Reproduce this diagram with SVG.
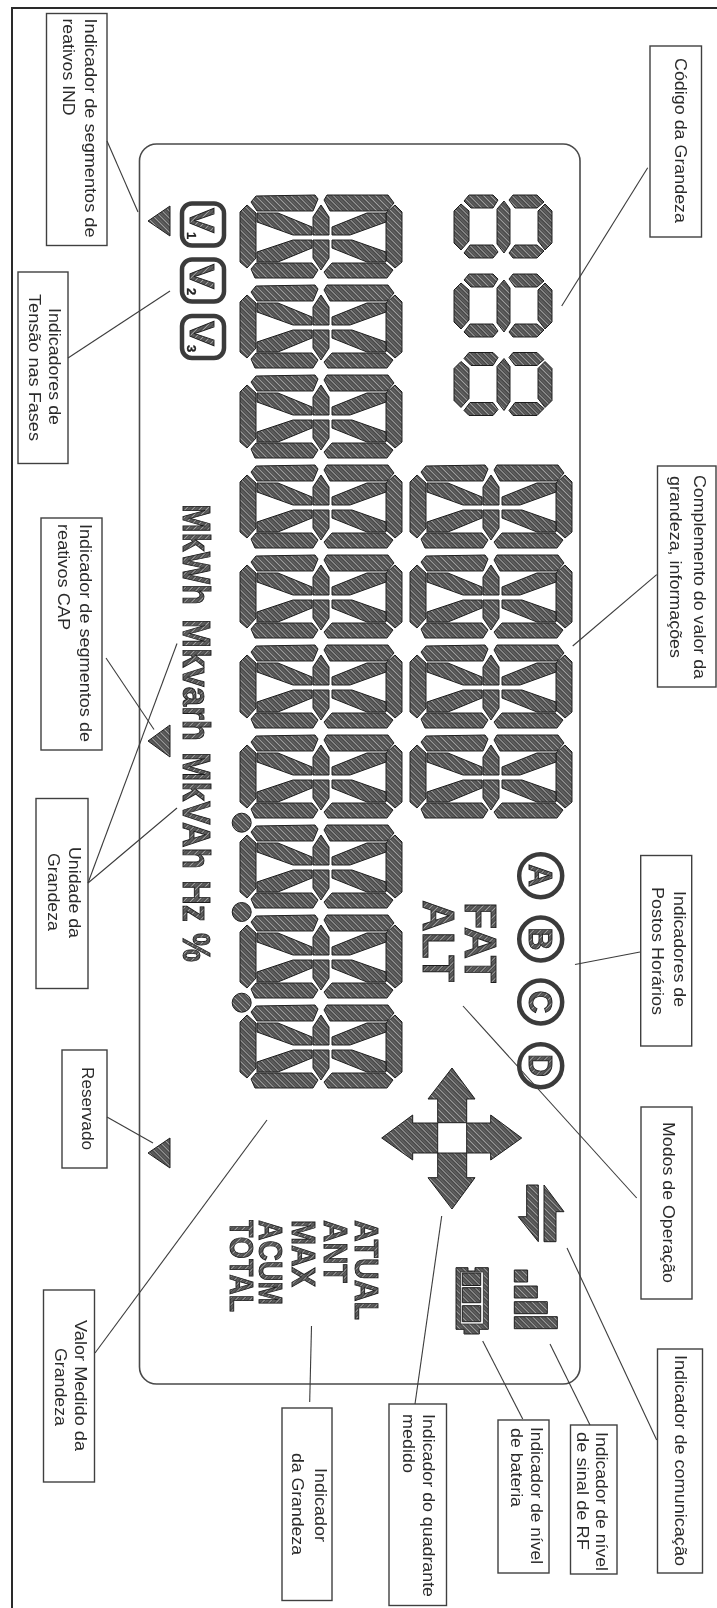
<svg xmlns="http://www.w3.org/2000/svg" xmlns:xlink="http://www.w3.org/1999/xlink" width="717" height="1608" viewBox="0 0 717 1608">
<style>
.box{fill:#fff;stroke:#404040;stroke-width:1.4}
.t{font-family:"Liberation Sans",Arial,sans-serif;font-size:16px;fill:#2c2c2c}
.b{font-family:"Liberation Sans",Arial,sans-serif;font-weight:700;fill:url(#h);stroke:#1c1c1c;stroke-width:.9}
.s{fill:url(#h);stroke:#1e1e1e;stroke-width:1;stroke-linejoin:round}
.c{stroke:#3c3c3c;stroke-width:1.1;fill:none}
.ring{fill:#fff;stroke:#3a3a3a;stroke-width:4.5}
</style>
<defs>
<filter id="soft" x="0" y="0" width="100%" height="100%" filterUnits="userSpaceOnUse" primitiveUnits="userSpaceOnUse"><feGaussianBlur stdDeviation="0.4"/></filter>
<pattern id="h" patternUnits="userSpaceOnUse" width="5" height="5" patternTransform="rotate(-45)">
<rect width="5" height="5" fill="#474747"/><rect width="0.8" height="5" fill="#b8b8b8"/><rect x="2.600" width="0.6" height="5" fill="#8c8c8c"/>
</pattern>
<g id="d16">
<polygon class="s" points="0,17 7,10 16,18 16,63 7,73 0,67"/>
<polygon class="s" points="11,7 16,1 75,0 78,4 73,16 17,16"/>
<polygon class="s" points="84,5 87,0 148,0 154,8 147,16 90,16"/>
<polygon class="s" points="162,17 162,67 155,73 146,65 146,18 155,10"/>
<polygon class="s" points="11,74 16,68 72,68 78,75 73,83 15,83"/>
<polygon class="s" points="84,77 92,68 145,68 153,75 147,83 88,83"/>
<polygon class="s" points="73,22 81,10 89,22 89,40 73,40"/>
<polygon class="s" points="73,45 89,45 89,63 81,75 73,63"/>
<polygon class="s" points="17,18 38,18 72,32 72,40 53,40 17,27"/>
<polygon class="s" points="17,57 53,45 72,45 72,53 38,67 17,67"/>
<polygon class="s" points="92,32 127,18 146,18 146,27 110,40 92,40"/>
<polygon class="s" points="92,45 112,45 146,57 146,67 127,67 92,53"/>
</g>
<g id="d7">
<polygon class="s" points="0,16 7,9 15,16 15,46 7,55 0,48"/>
<polygon class="s" points="10,6 15,0 39,0 44,5 39,13 17,13"/>
<polygon class="s" points="55,5 59,0 83,0 90,7 83,13 61,13"/>
<polygon class="s" points="98,16 98,48 91,55 84,46 84,16 91,9"/>
<polygon class="s" points="10,58 16,50 39,50 44,57 39,63 15,63"/>
<polygon class="s" points="55,58 61,50 83,50 90,56 83,63 59,63"/>
<polygon class="s" points="43,14 50,6 56,14 56,49 50,58 43,49"/>
</g>
</defs>
<rect width="717" height="1608" fill="#fff"/>
<g filter="url(#soft)">
<rect id="frame" x="12" y="8" width="800" height="1700" fill="none" stroke="#2c2c2c" stroke-width="2"/>
<rect id="display" x="139.500" y="144" width="440.500" height="1240" rx="17" fill="none" stroke="#4a4a4a" stroke-width="1.600"/>

<g id="main-digits">
<use xlink:href="#d16" href="#d16" x="240" y="195"/><use xlink:href="#d16" href="#d16" x="240" y="285"/><use xlink:href="#d16" href="#d16" x="240" y="375"/><use xlink:href="#d16" href="#d16" x="240" y="465"/><use xlink:href="#d16" href="#d16" x="240" y="555"/><use xlink:href="#d16" href="#d16" x="240" y="645"/><use xlink:href="#d16" href="#d16" x="240" y="735"/><use xlink:href="#d16" href="#d16" x="240" y="825"/><use xlink:href="#d16" href="#d16" x="240" y="915"/><use xlink:href="#d16" href="#d16" x="240" y="1005"/>
<circle class="s" cx="241.700" cy="822.700" r="9.500"/><circle class="s" cx="241.700" cy="912" r="9.500"/><circle class="s" cx="241.700" cy="1002.700" r="9.500"/>
</g>
<g id="complement-digits">
<use xlink:href="#d16" href="#d16" x="410" y="465"/><use xlink:href="#d16" href="#d16" x="410" y="555"/><use xlink:href="#d16" href="#d16" x="410" y="645"/><use xlink:href="#d16" href="#d16" x="410" y="735"/>
</g>
<g id="code-digits">
<use xlink:href="#d7" href="#d7" x="454" y="195"/><use xlink:href="#d7" href="#d7" x="454" y="274"/><use xlink:href="#d7" href="#d7" x="454" y="352.500"/>
</g>

<g id="triangles">
<polygon class="s" points="148,221 170,206 170,236"/>
<polygon class="s" points="148,741 170,725 170,757"/>
<polygon class="s" points="148,1153 170,1138 170,1168"/>
</g>

<g id="phase-indicators">
<rect x="182" y="203.500" width="42" height="42" rx="10" class="ring"/>
<rect x="182" y="259.500" width="42" height="42" rx="10" class="ring"/>
<rect x="182" y="316" width="42" height="42" rx="10" class="ring"/>
<text class="b" font-size="35" textLength="25" lengthAdjust="spacingAndGlyphs" transform="translate(190,208) rotate(90)">V</text>
<text class="b" font-size="35" textLength="25" lengthAdjust="spacingAndGlyphs" transform="translate(190,264) rotate(90)">V</text>
<text class="b" font-size="35" textLength="25" lengthAdjust="spacingAndGlyphs" transform="translate(190,321) rotate(90)">V</text>
<text class="b" font-size="13" style="fill:#222;stroke-width:.3" transform="translate(187,232) rotate(90)">1</text>
<text class="b" font-size="13" style="fill:#222;stroke-width:.3" transform="translate(187,288) rotate(90)">2</text>
<text class="b" font-size="13" style="fill:#222;stroke-width:.3" transform="translate(187,345) rotate(90)">3</text>
</g>

<g id="units">
<text class="b" font-size="38" textLength="101" lengthAdjust="spacingAndGlyphs" transform="translate(183,504) rotate(90)">MkWh</text>
<text class="b" font-size="38" textLength="122" lengthAdjust="spacingAndGlyphs" transform="translate(183,619) rotate(90)">Mkvarh</text>
<text class="b" font-size="38" textLength="117" lengthAdjust="spacingAndGlyphs" transform="translate(183,752) rotate(90)">MkVAh</text>
<text class="b" font-size="38" textLength="42" lengthAdjust="spacingAndGlyphs" transform="translate(183,880) rotate(90)">Hz</text>
<text class="b" font-size="38" textLength="29" lengthAdjust="spacingAndGlyphs" transform="translate(183,933) rotate(90)">%</text>
</g>

<g id="tariff-posts">
<circle class="ring" cx="540.700" cy="875.700" r="21.500"/><circle class="ring" cx="540.700" cy="939" r="21.500"/><circle class="ring" cx="540.700" cy="1002" r="21.500"/><circle class="ring" cx="540.700" cy="1065.700" r="21.500"/>
<text class="b" font-size="34" textLength="23" lengthAdjust="spacingAndGlyphs" transform="translate(528.500,864) rotate(90)">A</text>
<text class="b" font-size="34" textLength="23" lengthAdjust="spacingAndGlyphs" transform="translate(528.500,927.500) rotate(90)">B</text>
<text class="b" font-size="34" textLength="23" lengthAdjust="spacingAndGlyphs" transform="translate(528.500,990.500) rotate(90)">C</text>
<text class="b" font-size="34" textLength="23" lengthAdjust="spacingAndGlyphs" transform="translate(528.500,1054) rotate(90)">D</text>
</g>

<g id="operation-modes">
<text class="b" font-size="45" textLength="81" lengthAdjust="spacingAndGlyphs" transform="translate(465,902) rotate(90)">FAT</text>
<text class="b" font-size="45" textLength="82" lengthAdjust="spacingAndGlyphs" transform="translate(423,900) rotate(90)">ALT</text>
</g>

<g id="quadrant-arrows">
<polygon class="s" points="452,1068 475,1099 466.700,1099 466.700,1122.700 437.700,1122.700 437.700,1099 428,1099"/>
<polygon class="s" points="452,1209 475,1177.700 466.700,1177.700 466.700,1153 437.700,1153 437.700,1177.700 428,1177.700"/>
<polygon class="s" points="381.700,1138 412.700,1115 412.700,1123 437.700,1123 437.700,1153 412.700,1153 412.700,1160"/>
<polygon class="s" points="521.700,1138 490.700,1115 490.700,1123 466.700,1123 466.700,1153 490.700,1153 490.700,1160"/>
</g>

<g id="comm-arrows">
<polygon class="s" points="526.700,1185 538.300,1185 538.300,1241.700 518.300,1216.700 526.700,1216.700"/>
<polygon class="s" points="544,1185 564,1211.700 556,1211.700 556,1241.700 544,1241.700"/>
</g>

<g id="signal-bars">
<rect class="s" x="514.300" y="1270" width="13.300" height="12"/>
<rect class="s" x="514.300" y="1286" width="23" height="12"/>
<rect class="s" x="514.300" y="1301.700" width="33" height="12"/>
<rect class="s" x="514.300" y="1316.700" width="43" height="12"/>
</g>

<g id="battery">
<path class="s" d="M456,1267.700H468V1271H475V1267.700H488.300V1329.300H479.300V1334H464V1329.300H456Z"/>
<rect x="460.700" y="1272" width="22.600" height="52" fill="#fff" stroke="#333" stroke-width=".8"/>
<rect class="s" x="462.300" y="1273" width="18.400" height="12.500"/>
<rect class="s" x="462.300" y="1287.700" width="18.400" height="15"/>
<rect class="s" x="462.300" y="1305.700" width="18.400" height="16"/>
</g>

<g id="quantity-flags">
<text class="b" font-size="34" textLength="100" lengthAdjust="spacingAndGlyphs" transform="translate(355,1220) rotate(90)">ATUAL</text>
<text class="b" font-size="34" textLength="63" lengthAdjust="spacingAndGlyphs" transform="translate(324,1220) rotate(90)">ANT</text>
<text class="b" font-size="34" textLength="67" lengthAdjust="spacingAndGlyphs" transform="translate(292,1220) rotate(90)">MAX</text>
<text class="b" font-size="34" textLength="85" lengthAdjust="spacingAndGlyphs" transform="translate(259,1220) rotate(90)">ACUM</text>
<text class="b" font-size="34" textLength="92" lengthAdjust="spacingAndGlyphs" transform="translate(230,1220) rotate(90)">TOTAL</text>
</g>

<g id="node-ind">
<rect class="box" x="46.500" y="13.500" width="60.500" height="232"/>
<text class="t" textLength="219" lengthAdjust="spacingAndGlyphs" transform="translate(85,18.500) rotate(90)">Indicador de segmentos de</text>
<text class="t" textLength="97" lengthAdjust="spacingAndGlyphs" transform="translate(62.500,18.500) rotate(90)">reativos IND</text>
</g>
<g id="node-tensao">
<rect class="box" x="18" y="272" width="50" height="191.500"/>
<text class="t" textLength="117" lengthAdjust="spacingAndGlyphs" transform="translate(48.500,308) rotate(90)">Indicadores de</text>
<text class="t" textLength="147" lengthAdjust="spacingAndGlyphs" transform="translate(28.500,294) rotate(90)">Tensão nas Fases</text>
</g>
<g id="node-cap">
<rect class="box" x="41" y="518" width="61" height="232"/>
<text class="t" textLength="218" lengthAdjust="spacingAndGlyphs" transform="translate(80,524) rotate(90)">Indicador de segmentos de</text>
<text class="t" textLength="106" lengthAdjust="spacingAndGlyphs" transform="translate(57.500,524) rotate(90)">reativos CAP</text>
</g>
<g id="node-unidade">
<rect class="box" x="36" y="798.500" width="52" height="190"/>
<text class="t" textLength="91" lengthAdjust="spacingAndGlyphs" transform="translate(68.500,847) rotate(90)">Unidade da</text>
<text class="t" textLength="78" lengthAdjust="spacingAndGlyphs" transform="translate(47.500,853) rotate(90)">Grandeza</text>
</g>
<g id="node-reservado">
<rect class="box" x="62" y="1050" width="45" height="118"/>
<text class="t" textLength="83" lengthAdjust="spacingAndGlyphs" transform="translate(81.500,1067) rotate(90)">Reservado</text>
</g>
<g id="node-valor">
<rect class="box" x="43.500" y="1290" width="51" height="192"/>
<text class="t" textLength="131" lengthAdjust="spacingAndGlyphs" transform="translate(75,1320) rotate(90)">Valor Medido da</text>
<text class="t" textLength="78" lengthAdjust="spacingAndGlyphs" transform="translate(55,1348) rotate(90)">Grandeza</text>
</g>
<g id="node-indicador-grandeza">
<rect class="box" x="282" y="1408" width="50" height="192.500"/>
<text class="t" textLength="74" lengthAdjust="spacingAndGlyphs" transform="translate(315,1468) rotate(90)">Indicador</text>
<text class="t" textLength="102" lengthAdjust="spacingAndGlyphs" transform="translate(292,1453) rotate(90)">da Grandeza</text>
</g>
<g id="node-quadrante">
<rect class="box" x="389" y="1404" width="57.500" height="201.500"/>
<text class="t" textLength="183" lengthAdjust="spacingAndGlyphs" transform="translate(423,1414) rotate(90)">Indicador do quadrante</text>
<text class="t" textLength="59" lengthAdjust="spacingAndGlyphs" transform="translate(402.500,1414) rotate(90)">medido</text>
</g>
<g id="node-bateria">
<rect class="box" x="498" y="1420" width="51" height="153"/>
<text class="t" textLength="137" lengthAdjust="spacingAndGlyphs" transform="translate(530.500,1427) rotate(90)">Indicador de nível</text>
<text class="t" textLength="79" lengthAdjust="spacingAndGlyphs" transform="translate(510.500,1428) rotate(90)">de bateria</text>
</g>
<g id="node-sinal">
<rect class="box" x="570.500" y="1425" width="46.500" height="149"/>
<text class="t" textLength="139" lengthAdjust="spacingAndGlyphs" transform="translate(596,1432) rotate(90)">Indicador de nível</text>
<text class="t" textLength="118" lengthAdjust="spacingAndGlyphs" transform="translate(576.500,1432) rotate(90)">de sinal de RF</text>
</g>
<g id="node-comunicacao">
<rect class="box" x="657.500" y="1349" width="45" height="224"/>
<text class="t" textLength="211" lengthAdjust="spacingAndGlyphs" transform="translate(675,1355) rotate(90)">Indicador de comunicação</text>
</g>
<g id="node-modos">
<rect class="box" x="641" y="1107" width="51" height="192"/>
<text class="t" textLength="161" lengthAdjust="spacingAndGlyphs" transform="translate(663,1122) rotate(90)">Modos de Operação</text>
</g>
<g id="node-postos">
<rect class="box" x="640.700" y="855.500" width="51" height="190.500"/>
<text class="t" textLength="116" lengthAdjust="spacingAndGlyphs" transform="translate(673.500,891) rotate(90)">Indicadores de</text>
<text class="t" textLength="128" lengthAdjust="spacingAndGlyphs" transform="translate(651.500,887) rotate(90)">Postos Horários</text>
</g>
<g id="node-complemento">
<rect class="box" x="657.500" y="466" width="58.500" height="221"/>
<text class="t" textLength="204" lengthAdjust="spacingAndGlyphs" transform="translate(693.500,475) rotate(90)">Complemento do valor da</text>
<text class="t" textLength="182" lengthAdjust="spacingAndGlyphs" transform="translate(670,476) rotate(90)">grandeza, informações</text>
</g>
<g id="node-codigo">
<rect class="box" x="650" y="46" width="51.500" height="191"/>
<text class="t" textLength="165" lengthAdjust="spacingAndGlyphs" transform="translate(675,58) rotate(90)">Código da Grandeza</text>
</g>

<g id="connectors">
<line class="c" x1="107" y1="141" x2="138" y2="212"/>
<line class="c" x1="68" y1="358" x2="170" y2="291"/>
<line class="c" x1="106" y1="658" x2="154" y2="729.500"/>
<line class="c" x1="88" y1="883" x2="177" y2="643.500"/>
<line class="c" x1="88" y1="883" x2="177" y2="808"/>
<line class="c" x1="107" y1="1117" x2="153" y2="1143"/>
<line class="c" x1="95" y1="1353" x2="267" y2="1120"/>
<line class="c" x1="311.500" y1="1326" x2="309.700" y2="1402"/>
<line class="c" x1="441.700" y1="1216" x2="415" y2="1404"/>
<line class="c" x1="482.700" y1="1341" x2="522.700" y2="1419"/>
<line class="c" x1="550" y1="1344" x2="590" y2="1425"/>
<line class="c" x1="567" y1="1248" x2="656.700" y2="1440"/>
<line class="c" x1="636.700" y1="1198" x2="463" y2="1006"/>
<line class="c" x1="575" y1="964.500" x2="640" y2="952"/>
<line class="c" x1="656.700" y1="574.700" x2="572.700" y2="646"/>
<line class="c" x1="647.700" y1="167.700" x2="561.700" y2="306"/>
</g>
</g>
</svg>
